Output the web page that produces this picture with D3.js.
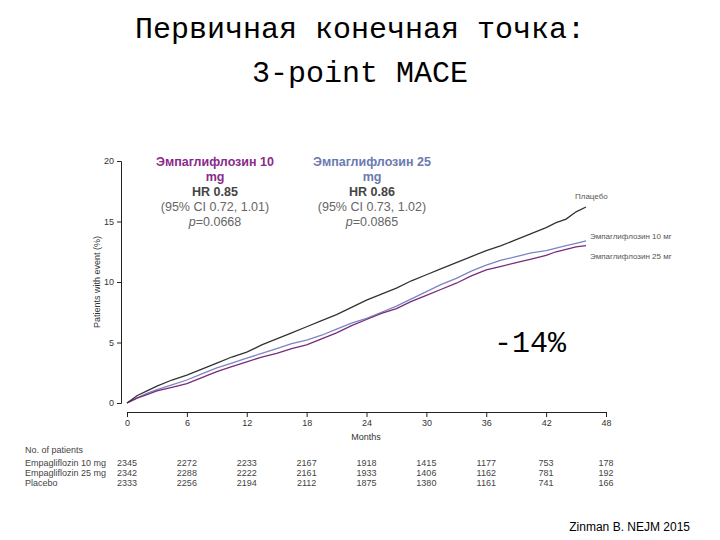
<!DOCTYPE html><html><head><meta charset="utf-8"><script src="https://cdn.jsdelivr.net/npm/d3@7"></script>
<style>body{margin:0;background:#fff}svg{display:block}</style></head><body><svg id="c" width="720" height="540"></svg>
<script>
const months=[0,1,2,3,4.5,6,7.5,9,10.5,12,13.5,15,16.5,18,19.5,21,22.5,24,25.5,27,28.5,30,31.5,33,34.5,36,37.5,39,40.5,42,43,44,45,46];
const placebo=[0,0.6,1.0,1.4,1.9,2.3,2.8,3.3,3.8,4.2,4.8,5.3,5.8,6.3,6.8,7.3,7.9,8.5,9.0,9.5,10.1,10.6,11.1,11.6,12.1,12.6,13.0,13.5,14.0,14.5,14.9,15.2,15.8,16.2];
const empa10=[0,0.4,0.7,1.0,1.3,1.6,2.1,2.6,3.0,3.4,3.8,4.1,4.5,4.8,5.3,5.8,6.4,6.9,7.4,7.8,8.4,8.9,9.4,9.9,10.5,11.0,11.3,11.6,11.9,12.2,12.5,12.7,12.9,13.0];
const empa25=[0,0.4,0.8,1.1,1.5,1.9,2.4,2.9,3.3,3.7,4.1,4.5,4.9,5.2,5.6,6.1,6.6,7.0,7.5,8.0,8.6,9.2,9.8,10.3,10.9,11.4,11.8,12.1,12.4,12.6,12.8,13.0,13.2,13.4];
const xTicks=[0,6,12,18,24,30,36,42,48];
const yTicks=[0,5,10,15,20];
const tableRows=["Empagliflozin 10 mg","Empagliflozin 25 mg","Placebo"];
const atRisk=[[2345,2272,2233,2167,1918,1415,1177,753,178],[2342,2288,2222,2161,1933,1406,1162,781,192],[2333,2256,2194,2112,1875,1380,1161,741,166]];
const svg=d3.select("#c");
const x=d3.scaleLinear().domain([0,48]).range([127,606]);
const y=d3.scaleLinear().domain([0,20]).range([403,161]);
const mono="'Liberation Mono','DejaVu Sans Mono',monospace";
svg.append("text").attr("x",360).attr("y",38).attr("text-anchor","middle").attr("font-family",mono).attr("font-size",30).text("Первичная конечная точка:");
svg.append("text").attr("x",360).attr("y",82).attr("text-anchor","middle").attr("font-family",mono).attr("font-size",30).text("3-point MACE");
const f="'Liberation Sans',Arial,sans-serif";
svg.append("g").attr("transform","translate(0,412)").call(d3.axisBottom(x).tickValues(xTicks).tickSize(5)).call(g=>{g.selectAll("text").attr("font-family",f).attr("font-size",9).attr("fill","#333");g.selectAll("line,path").attr("stroke","#222");});
svg.append("g").attr("transform","translate(121,0)").call(d3.axisLeft(y).tickValues(yTicks).tickSize(4)).call(g=>{g.selectAll("text").attr("font-family",f).attr("font-size",9).attr("fill","#333");g.selectAll("line,path").attr("stroke","#222");});
svg.append("text").attr("x",366).attr("y",440).attr("text-anchor","middle").attr("font-family",f).attr("font-size",9).attr("fill","#333").text("Months");
svg.append("text").attr("transform","translate(100,282) rotate(-90)").attr("text-anchor","middle").attr("font-family",f).attr("font-size",9).attr("fill","#333").text("Patients with event (%)");
const line=d3.line().x((d,i)=>x(months[i])).y(d=>y(d)).curve(d3.curveLinear);
[[empa25,"#7a86c4"],[empa10,"#7a2a7a"],[placebo,"#333"]].forEach(([s,c])=>svg.append("path").datum(s).attr("d",line).attr("fill","none").attr("stroke",c).attr("stroke-width",1.3));
svg.append("text").attr("x",575).attr("y",199).attr("font-family",f).attr("font-size",8).attr("fill","#555").text("Плацебо");
svg.append("text").attr("x",590).attr("y",239).attr("font-family",f).attr("font-size",8).attr("fill","#555").text("Эмпаглифлозин 10 мг");
svg.append("text").attr("x",590).attr("y",259).attr("font-family",f).attr("font-size",8).attr("fill","#555").text("Эмпаглифлозин 25 мг");
const boxes=[{x:215,c:"#8a2a8a",t:["Эмпаглифлозин 10","mg","HR 0.85","(95% CI 0.72, 1.01)","p=0.0668"]},{x:372,c:"#6a7ab0",t:["Эмпаглифлозин 25","mg","HR 0.86","(95% CI 0.73, 1.02)","p=0.0865"]}];
boxes.forEach(b=>b.t.forEach((s,i)=>{const t=svg.append("text").attr("x",b.x).attr("y",166+i*15).attr("text-anchor","middle").attr("font-family",f).attr("font-size",12.5).attr("font-weight",i<3?"bold":"normal").attr("fill",i<2?b.c:(i==2?"#444":"#666"));
 if(i==4){t.append("tspan").attr("font-style","italic").text("p");t.append("tspan").text(s.slice(1));}else t.text(s);}));
svg.append("text").attr("x",530).attr("y",352).attr("text-anchor","middle").attr("font-family",mono).attr("font-size",30).text("-14%");
svg.append("text").attr("x",25).attr("y",453).attr("font-family",f).attr("font-size",9).attr("fill","#444").text("No. of patients");
tableRows.forEach((r,i)=>{svg.append("text").attr("x",25).attr("y",466+i*10).attr("font-family",f).attr("font-size",9).attr("fill","#444").text(r);
 atRisk[i].forEach((v,j)=>svg.append("text").attr("x",x(xTicks[j])).attr("y",466+i*10).attr("text-anchor","middle").attr("font-family",f).attr("font-size",9).attr("fill","#444").text(v));});
svg.append("text").attr("x",690).attr("y",531).attr("text-anchor","end").attr("font-family",f).attr("font-size",12).text("Zinman B. NEJM 2015");
</script></body></html>
